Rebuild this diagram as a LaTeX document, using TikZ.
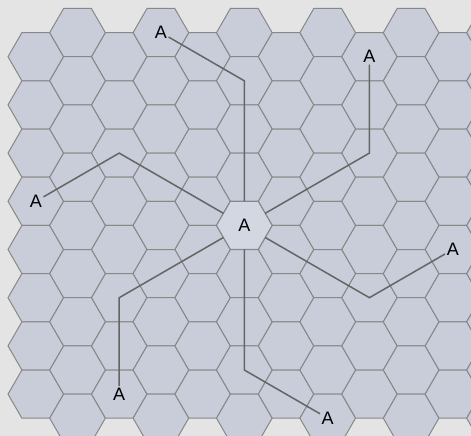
\documentclass[tikz,border=0pt]{standalone}
\usepackage{fontspec}
\setmainfont{Liberation Sans}
\usepackage{xcolor}
\usepackage{tikz}
\usetikzlibrary{shapes.geometric}
\definecolor{cellfill}{HTML}{C8CDD9}
\definecolor{celledge}{HTML}{888888}
\definecolor{paper}{HTML}{E4E4E4}
\definecolor{wire}{HTML}{656565}
\newcommand{\hexR}{27.8}
\newcommand{\hexA}{24.1}

\begin{document}
\begin{tikzpicture}[x=1pt, y=-1pt,
  cell/.style={fill=cellfill, draw=celledge, line width=1pt},
  site/.style={font=\fontsize{18}{18}\selectfont, inner sep=1.5pt, text=black},
  hub/.style={regular polygon, regular polygon sides=6, minimum size=55.6pt,
    inner sep=0pt, outer sep=0pt, fill=cellfill!80!white, draw=celledge,
    line width=1pt, font=\fontsize{18}{18}\selectfont, text=black},
  route/.style={draw=wire, line width=1.5pt}]
\useasboundingbox (0,0) rectangle (471,436);
\fill[paper] (0,0) rectangle (471,436);
\clip (0,0) rectangle (471,436);
% hex grid: even columns
\foreach \c in {0,2,...,10}{
  \pgfmathsetmacro{\cx}{35.8+41.7*\c}
  \foreach \r in {0,...,7}{
    \pgfmathsetmacro{\cy}{56.7+48.2*\r}
    \draw[cell] (\cx+\hexR,\cy) -- ++(-13.9,\hexA) -- ++(-27.8,0)
      -- ++(-13.9,-\hexA) -- ++(13.9,-\hexA) -- ++(27.8,0) -- cycle;
  }
}
% hex grid: odd columns (half a cell higher)
\foreach \c in {1,3,...,11}{
  \pgfmathsetmacro{\cx}{35.8+41.7*\c}
  \foreach \r in {0,...,8}{
    \pgfmathsetmacro{\cy}{32.6+48.2*\r}
    \draw[cell] (\cx+\hexR,\cy) -- ++(-13.9,\hexA) -- ++(-27.8,0)
      -- ++(-13.9,-\hexA) -- ++(13.9,-\hexA) -- ++(27.8,0) -- cycle;
  }
}
% centre cell and the outer sites
\node[hub] (hub) at (244.3,225.4) {A};
\node[site] (aN)  at (160.9,32.6)  {A};
\node[site] (aNE) at (369.4,56.7)  {A};
\node[site] (aW)  at (35.8,201.3)  {A};
\node[site] (aE)  at (452.8,249.5) {A};
\node[site] (aSE) at (327.7,418.2) {A};
\node[site] (aSW) at (119.2,394.1) {A};
% bends of the routes
\coordinate (bN)  at (244.3,80.8);
\coordinate (bNE) at (369.4,153.1);
\coordinate (bW)  at (119.2,153.1);
\coordinate (bE)  at (369.4,297.7);
\coordinate (bSE) at (244.3,370.0);
\coordinate (bSW) at (119.2,297.7);
% routes
\draw[route] (hub) -- (bN) -- (aN);
\draw[route] (hub) -- (bNE) -- (aNE);
\draw[route] (hub) -- (bW) -- (aW);
\draw[route] (hub) -- (bE) -- (aE);
\draw[route] (hub) -- (bSE) -- (aSE);
\draw[route] (hub) -- (bSW) -- (aSW);
\end{tikzpicture}
\end{document}
